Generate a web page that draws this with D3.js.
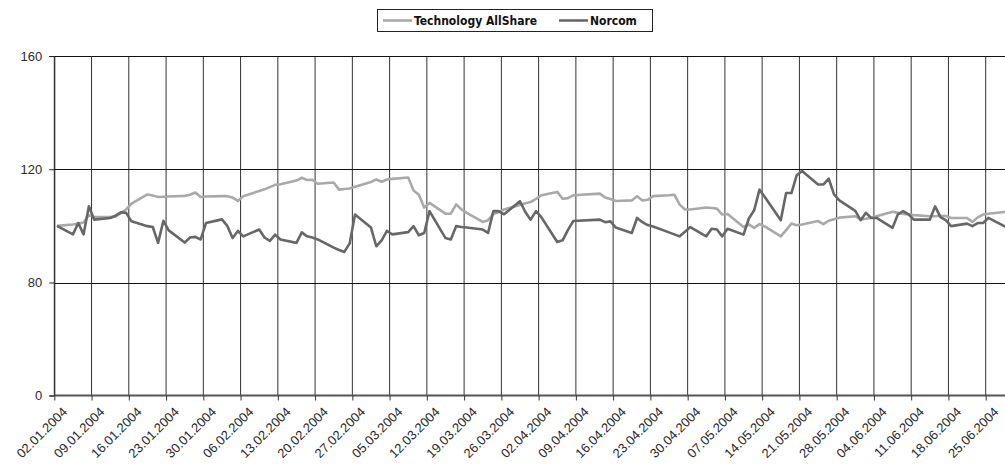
<!DOCTYPE html>
<html lang="de">
<head>
<meta charset="UTF-8">
<title>Norcom vs Technology AllShare</title>
<script src="https://d3js.org/d3.v7.min.js"></script>
<style>
    body { margin: 0; background: #fff; }
    svg { display: block; font-family: "DejaVu Sans Condensed", "DejaVu Sans", sans-serif; }
    .axis text { font-size: 13px; fill: #2a2a2a; }
    .legend text { font-size: 12px; font-weight: bold; fill: #111; }
</style>
</head>
<body>
<svg id="chart" width="1005" height="466"></svg>
<script>
// business days, Jan - Jun 2004 (09.04 and 12.04 missing, Easter)
const dates = [
    "02.01.2004","05.01.2004","06.01.2004","07.01.2004","08.01.2004","09.01.2004","12.01.2004","13.01.2004","14.01.2004","15.01.2004",
    "16.01.2004","19.01.2004","20.01.2004","21.01.2004","22.01.2004","23.01.2004","26.01.2004","27.01.2004","28.01.2004","29.01.2004","30.01.2004",
    "02.02.2004","03.02.2004","04.02.2004","05.02.2004","06.02.2004","09.02.2004","10.02.2004","11.02.2004","12.02.2004","13.02.2004",
    "16.02.2004","17.02.2004","18.02.2004","19.02.2004","20.02.2004","23.02.2004","24.02.2004","25.02.2004","26.02.2004","27.02.2004",
    "01.03.2004","02.03.2004","03.03.2004","04.03.2004","05.03.2004","08.03.2004","09.03.2004","10.03.2004","11.03.2004","12.03.2004",
    "15.03.2004","16.03.2004","17.03.2004","18.03.2004","19.03.2004","22.03.2004","23.03.2004","24.03.2004","25.03.2004","26.03.2004",
    "29.03.2004","30.03.2004","31.03.2004",
    "01.04.2004","02.04.2004","05.04.2004","06.04.2004","07.04.2004","08.04.2004","13.04.2004","14.04.2004","15.04.2004","16.04.2004",
    "19.04.2004","20.04.2004","21.04.2004","22.04.2004","23.04.2004","26.04.2004","27.04.2004","28.04.2004","29.04.2004","30.04.2004",
    "03.05.2004","04.05.2004","05.05.2004","06.05.2004","07.05.2004","10.05.2004","11.05.2004","12.05.2004","13.05.2004","14.05.2004",
    "17.05.2004","18.05.2004","19.05.2004","20.05.2004","21.05.2004","24.05.2004","25.05.2004","26.05.2004","27.05.2004","28.05.2004","31.05.2004",
    "01.06.2004","02.06.2004","03.06.2004","04.06.2004","07.06.2004","08.06.2004","09.06.2004","10.06.2004","11.06.2004",
    "14.06.2004","15.06.2004","16.06.2004","17.06.2004","18.06.2004","21.06.2004","22.06.2004","23.06.2004","24.06.2004","25.06.2004",
    "28.06.2004","29.06.2004"
];

const allShare = [
    100.0,100.5,100.8,101.2,103.8,103.1,103.1,103.3,104.5,105.8,
    107.9,111.1,110.7,110.2,110.3,110.4,110.6,111.0,111.8,110.2,110.4,
    110.5,110.5,110.0,108.8,110.5,112.3,112.9,113.7,114.5,114.7,
    116.0,117.0,116.2,116.3,114.9,115.3,112.8,113.0,113.2,113.8,
    115.5,116.4,115.6,116.4,116.6,117.1,112.5,111.0,106.5,108.1,
    104.3,104.3,107.6,105.8,104.6,101.4,102.0,104.2,104.8,105.8,
    107.4,108.0,108.4,
    109.5,110.8,112.0,109.6,109.8,110.8,111.4,110.0,109.5,108.8,
    109.0,110.5,109.0,109.2,110.5,110.8,111.0,107.5,105.8,105.8,
    106.5,106.3,106.1,104.0,104.2,99.6,100.5,99.3,100.6,99.8,
    96.3,98.5,100.8,100.2,100.5,101.7,100.6,101.8,102.3,102.9,103.4,
    102.3,102.5,102.9,103.4,105.0,104.6,104.2,104.0,103.8,
    103.4,103.4,103.6,103.5,102.8,102.8,101.4,103.0,104.0,104.3,
    104.9,105.0
];

const norcom = [
    100.0,97.0,101.0,97.0,106.9,102.2,102.8,103.6,104.8,104.6,
    101.6,99.9,99.6,94.0,101.8,98.4,94.1,95.9,96.1,95.2,101.0,
    102.3,100.0,95.7,98.2,96.3,98.7,95.9,94.7,96.9,95.2,
    94.0,97.7,96.3,95.9,95.2,92.3,91.5,90.8,93.8,104.0,
    99.4,92.8,94.9,98.2,97.0,97.8,99.9,96.7,97.5,105.2,
    95.7,95.2,99.9,99.6,99.4,98.7,97.5,105.2,105.2,104.1,
    108.7,104.9,102.2,
    105.2,103.1,94.3,94.9,98.5,101.7,102.2,101.3,101.6,99.4,
    97.5,102.8,101.3,100.3,99.8,97.7,97.0,96.3,97.9,99.6,
    96.3,99.0,98.7,96.3,99.0,96.9,102.6,105.5,112.8,110.2,
    102.0,111.6,111.6,117.9,119.4,114.6,114.6,116.7,111.1,109.0,105.3,
    102.0,104.6,102.8,102.8,99.3,104.1,105.2,104.1,102.2,
    102.2,106.9,103.1,102.0,99.9,100.8,99.9,101.0,101.0,102.8,
    99.9,99.5
];

const seriesNames = ["Technology AllShare", "Norcom"];
const yTicks = [0, 80, 120, 160];

const parse = d3.timeParse("%d.%m.%Y");
const fmt = d3.timeFormat("%d.%m.%Y");

const svg = d3.select("#chart");
const W = 1005;

const x = d3.scaleTime()
    .domain([parse("02.01.2004"), parse("30.06.2004")])
    .range([54.3, 1012.3]);

// axis is not linear: 0..80 takes the same room as 80..120
const y = d3.scaleLinear()
    .domain([0, 80, 160])
    .range([395.5, 282.5, 56]);

const xTicks = d3.timeFriday.every(1).range(parse("02.01.2004"), parse("26.06.2004"));

// grid
svg.append("g").selectAll("line")
    .data(xTicks)
    .join("line")
    .attr("x1", d => x(d)).attr("x2", d => x(d))
    .attr("y1", y(160)).attr("y2", y(0))
    .attr("stroke", "#333").attr("stroke-width", 1);

svg.append("g").selectAll("line")
    .data(yTicks.filter(v => v > 0))
    .join("line")
    .attr("x1", x.range()[0]).attr("x2", W)
    .attr("y1", d => Math.round(y(d)) + 0.5).attr("y2", d => Math.round(y(d)) + 0.5)
    .attr("stroke", "#111").attr("stroke-width", 1);

// lines, points sit in the middle of their day
const rows = dates.map((d, i) => ({date: d3.timeHour.offset(parse(d), 12), a: allShare[i], n: norcom[i]}));

const lineA = d3.line().x(d => x(d.date)).y(d => y(d.a));
const lineN = d3.line().x(d => x(d.date)).y(d => y(d.n));

svg.append("path").datum(rows)
    .attr("d", lineA)
    .attr("fill", "none").attr("stroke", "#a9a9a9").attr("stroke-width", 2.6)
    .attr("stroke-linejoin", "round");

svg.append("path").datum(rows)
    .attr("d", lineN)
    .attr("fill", "none").attr("stroke", "#676767").attr("stroke-width", 2.6)
    .attr("stroke-linejoin", "round");

// axes
const yAxis = svg.append("g")
    .attr("class", "axis")
    .attr("transform", `translate(${x.range()[0]},0)`)
    .call(d3.axisLeft(y).tickValues(yTicks).tickSize(5).tickPadding(7).tickFormat(d3.format("d")));
yAxis.select(".domain").attr("stroke", "#222");
yAxis.selectAll(".tick line").attr("stroke", "#222");

const xAxis = svg.append("g")
    .attr("class", "axis")
    .attr("transform", `translate(0,${y(0)})`)
    .call(d3.axisBottom(x).tickValues(xTicks).tickSize(5).tickSizeOuter(0).tickFormat(fmt));
xAxis.select(".domain").attr("stroke", "#555").attr("stroke-width", 2)
    .attr("d", `M${x.range()[0]},0H${W}`);
xAxis.selectAll(".tick line").attr("stroke", "#333");
xAxis.selectAll(".tick text")
    .attr("x", 0).attr("y", 0)
    .attr("text-anchor", "end")
    .attr("dy", "0.35em")
    .attr("transform", "translate(10,14) rotate(-45)");

// legend
const legend = svg.append("g").attr("class", "legend");
legend.append("rect")
    .attr("x", 377.5).attr("y", 9.5).attr("width", 275).attr("height", 22)
    .attr("fill", "#fff").attr("stroke", "#222");
const legendColors = ["#a9a9a9", "#676767"];
const legendX = [383, 559];
seriesNames.forEach((name, i) => {
    legend.append("line")
        .attr("x1", legendX[i]).attr("x2", legendX[i] + 29)
        .attr("y1", 20.5).attr("y2", 20.5)
        .attr("stroke", legendColors[i]).attr("stroke-width", 2.6);
    legend.append("text")
        .attr("x", legendX[i] + 31).attr("y", 20.5)
        .attr("dy", "0.35em")
        .text(name);
});
</script>
</body>
</html>
